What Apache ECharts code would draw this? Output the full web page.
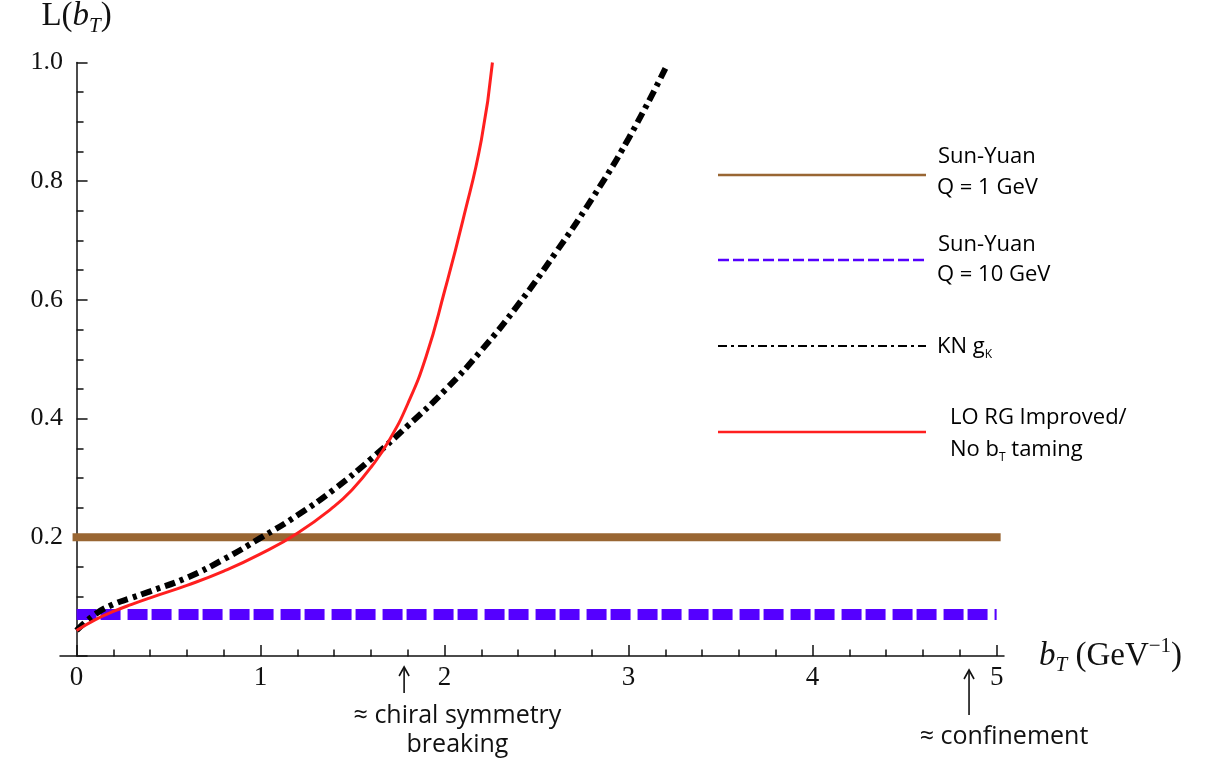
<!DOCTYPE html>
<html>
<head>
<meta charset="utf-8">
<title>L(bT)</title>
<script src="https://cdn.jsdelivr.net/npm/echarts@6/dist/echarts.min.js"></script>
<style>
  html, body { margin: 0; padding: 0; background: #fff; }
  #chart { width: 1215px; height: 763px; }
</style>
</head>
<body>
<div id="chart"></div>
<script>
// KN g_K (black dot-dashed)
const knX = [0, 0.1, 0.2, 0.3, 0.4, 0.6, 0.8, 1.0, 1.2, 1.4, 1.6, 1.8, 2.0, 2.2, 2.4, 2.6, 2.8, 3.0, 3.2]
const knY = [0.043, 0.07, 0.087, 0.098, 0.109, 0.132, 0.163, 0.199, 0.237, 0.281, 0.332, 0.388, 0.447, 0.515, 0.592, 0.678, 0.77, 0.872, 0.99]

// LO RG improved / no bT taming (red)
const loX = [0, 0.1, 0.2, 0.3, 0.4, 0.6, 0.8, 1.0, 1.2, 1.4, 1.5, 1.6, 1.7, 1.8, 1.9, 2.0, 2.1, 2.2, 2.26]
const loY = [0.043, 0.061, 0.075, 0.087, 0.098, 0.119, 0.143, 0.172, 0.207, 0.252, 0.281, 0.318, 0.364, 0.425, 0.505, 0.615, 0.735, 0.87, 1.0]

// Sun-Yuan, flat in bT
const syX = [0, 5]
const sy1GeV = 0.2
const sy10GeV = 0.07

// axes
const xTicks = [0, 1, 2, 3, 4, 5]
const xMinorTicks = [0.2, 0.4, 0.6, 0.8, 1.2, 1.4, 1.6, 1.8, 2.2, 2.4, 2.6, 2.8,
  3.2, 3.4, 3.6, 3.8, 4.2, 4.4, 4.6, 4.8]

// arrows under the axis
const notes = [
  { arrowX: 1.78, textX: 2.07, lines: ['≈ chiral symmetry', 'breaking'], top: 11, bottom: 37, textY: 60 },
  { arrowX: 4.85, textX: 5.04, lines: ['≈ confinement'], top: 14, bottom: 59, textY: 81 }
]

const ink = '#111'
const brown = '#996633'
const purple = '#5500ff'
const red = '#ff1f1f'
const serif = '"Liberation Serif", "DejaVu Serif", serif'
const sans = '"Open Sans", "Noto Sans", sans-serif'

const pairs = (xs, ys) => xs.map((x, i) => [x, ys[i]])

const chart = echarts.init(document.getElementById('chart'))

const serifRich = {
  n: { fontFamily: serif, fontSize: 33, color: ink, lineHeight: 40 },
  i: { fontFamily: serif, fontSize: 33, fontStyle: 'italic', color: ink, lineHeight: 40 },
  s: { fontFamily: serif, fontSize: 21, fontStyle: 'italic', color: ink, lineHeight: 22, verticalAlign: 'bottom' },
  p: { fontFamily: serif, fontSize: 21, color: ink, lineHeight: 22, verticalAlign: 'top' }
}

const gridTop = 62
const gridBottom = 107
const gridHeight = 763 - gridTop - gridBottom

const option = {
  animation: false,
  backgroundColor: '#fff',
  grid: { left: 60, right: 211, top: gridTop, bottom: gridBottom },
  xAxis: [
    {
      type: 'value',
      min: -0.09,
      max: 5.04,
      axisLine: { show: true, onZero: true, lineStyle: { color: ink, width: 1.5 } },
      axisTick: { show: true, inside: true, length: 11, customValues: xTicks, lineStyle: { color: ink, width: 1.5 } },
      axisLabel: { customValues: xTicks, fontFamily: serif, fontSize: 27, color: ink, margin: 8 },
      splitLine: { show: false },
      name: '{i|b}{s|T}{n| (GeV}{p|−1}{n|)}',
      nameLocation: 'end',
      nameGap: 35,
      nameTextStyle: { rich: serifRich }
    },
    {
      // minor ticks only, pulled down onto the bottom edge
      type: 'value',
      position: 'top',
      offset: -gridHeight,
      min: -0.09,
      max: 5.04,
      axisLine: { show: false, onZero: false },
      axisTick: { show: true, inside: false, length: 7, customValues: xMinorTicks, lineStyle: { color: ink, width: 1.5 } },
      axisLabel: { show: false },
      splitLine: { show: false }
    }
  ],
  yAxis: {
    type: 'value',
    min: 0,
    max: 1,
    interval: 0.2,
    axisLine: { show: true, onZero: true, lineStyle: { color: ink, width: 1.5 } },
    axisTick: { show: true, inside: true, length: 11, lineStyle: { color: ink, width: 1.5 } },
    minorTick: { show: true, splitNumber: 4, length: 7, lineStyle: { color: ink, width: 1.5 } },
    splitLine: { show: false },
    axisLabel: {
      formatter: v => (v === 0 ? '' : v.toFixed(1)),
      fontFamily: serif, fontSize: 26, color: ink, margin: -3
    },
    name: '{n|L(}{i|b}{s|T}{n|)}',
    nameLocation: 'end',
    nameGap: 26,
    nameTextStyle: { rich: serifRich }
  },
  series: [
    {
      name: 'Sun-Yuan Q = 1 GeV',
      type: 'line',
      data: syX.map(x => [x, sy1GeV]),
      symbol: 'none',
      silent: true,
      lineStyle: { color: brown, width: 8, cap: 'square' },
      z: 2
    },
    {
      name: 'Sun-Yuan Q = 10 GeV',
      type: 'line',
      data: syX.map(x => [x, sy10GeV]),
      symbol: 'none',
      silent: true,
      lineStyle: { color: purple, width: 11, type: [20, 4, 20, 7] },
      z: 3
    },
    {
      name: 'KN gK',
      type: 'line',
      data: pairs(knX, knY),
      smooth: 0.5,
      symbol: 'none',
      silent: true,
      clip: false,
      lineStyle: { color: '#000', width: 6, type: [11, 5, 4, 5] },
      z: 4
    },
    {
      name: 'LO RG Improved / No bT taming',
      type: 'line',
      data: pairs(loX, loY),
      smooth: 0.5,
      symbol: 'none',
      silent: true,
      clip: false,
      lineStyle: { color: red, width: 3 },
      z: 5
    }
  ]
}

chart.setOption(option)

// legend drawn by hand, the way the figure has it
const legendRich = {
  t: { fontFamily: sans, fontSize: 22, color: ink, lineHeight: 28 },
  s: { fontFamily: sans, fontSize: 12, color: ink, lineHeight: 14, verticalAlign: 'bottom' }
}
const legendLines = [
  { y: 175, stroke: brown, width: 2.5, dash: null },
  { y: 260, stroke: purple, width: 2.5, dash: [11, 4] },
  { y: 346, stroke: '#000', width: 2, dash: [9, 4, 3, 4] },
  { y: 432, stroke: red, width: 2.5, dash: null }
]
const legendTexts = [
  { x: 938, y: 157, text: '{t|Sun-Yuan}' },
  { x: 937, y: 188, text: '{t|Q = 1 GeV}' },
  { x: 938, y: 245, text: '{t|Sun-Yuan}' },
  { x: 937, y: 275, text: '{t|Q = 10 GeV}' },
  { x: 937, y: 347, text: '{t|KN g}{s|K}' },
  { x: 950, y: 418, text: '{t|LO RG Improved/}' },
  { x: 950, y: 450, text: '{t|No b}{s|T}{t| taming}' }
]

const graphics = []
legendLines.forEach(l => {
  graphics.push({
    type: 'line',
    shape: { x1: 718, y1: l.y, x2: 926, y2: l.y },
    style: { stroke: l.stroke, lineWidth: l.width, lineDash: l.dash },
    silent: true
  })
})
legendTexts.forEach(t => {
  graphics.push({
    type: 'text',
    x: t.x,
    y: t.y,
    style: { text: t.text, rich: legendRich, align: 'left', verticalAlign: 'middle' },
    silent: true
  })
})

// arrows + notes below the axis
const axisY = chart.convertToPixel({ xAxisIndex: 0, yAxisIndex: 0 }, [0, 0])[1]
notes.forEach(n => {
  const ax = chart.convertToPixel({ xAxisIndex: 0, yAxisIndex: 0 }, [n.arrowX, 0])[0]
  const tx = chart.convertToPixel({ xAxisIndex: 0, yAxisIndex: 0 }, [n.textX, 0])[0]
  graphics.push({
    type: 'line',
    shape: { x1: ax, y1: axisY + n.bottom, x2: ax, y2: axisY + n.top + 1 },
    style: { stroke: ink, lineWidth: 1.6 },
    silent: true
  })
  graphics.push({
    type: 'polyline',
    shape: { points: [[ax - 5, axisY + n.top + 9], [ax, axisY + n.top], [ax + 5, axisY + n.top + 9]] },
    style: { stroke: ink, lineWidth: 1.6, fill: null },
    silent: true
  })
  n.lines.forEach((line, k) => {
    graphics.push({
      type: 'text',
      x: tx,
      y: axisY + n.textY + k * 29,
      style: { text: line, fontFamily: sans, fontSize: 25, fill: ink, align: 'center', verticalAlign: 'middle' },
      silent: true
    })
  })
})

chart.setOption({ graphic: graphics })
</script>
</body>
</html>
